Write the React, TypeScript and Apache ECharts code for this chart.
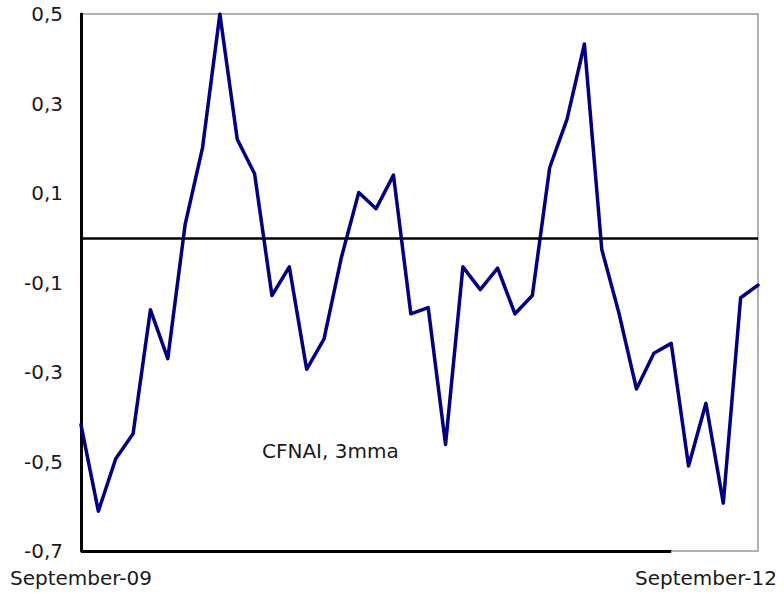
import React, { useEffect, useRef } from "react";
import * as echarts from "echarts";

const categories: string[] = [
  "September-09", "October-09", "November-09", "December-09",
  "January-10", "February-10", "March-10", "April-10", "May-10", "June-10",
  "July-10", "August-10", "September-10", "October-10", "November-10", "December-10",
  "January-11", "February-11", "March-11", "April-11", "May-11", "June-11",
  "July-11", "August-11", "September-11", "October-11", "November-11", "December-11",
  "January-12", "February-12", "March-12", "April-12", "May-12", "June-12",
  "July-12", "August-12", "September-12", "October-12", "November-12", "December-12",
];

const cfnai3mma: number[] = [
  -0.418, -0.611, -0.494, -0.438, -0.161, -0.27, 0.03, 0.201, 0.5, 0.22,
  0.143, -0.129, -0.065, -0.294, -0.226, -0.044, 0.101, 0.065, 0.14, -0.17,
  -0.156, -0.462, -0.065, -0.116, -0.068, -0.17, -0.129, 0.157, 0.265, 0.433,
  -0.026, -0.17, -0.338, -0.258, -0.236, -0.51, -0.37, -0.593, -0.134, -0.106,
];

const seriesLabel = "CFNAI, 3mma";
const yMin = -0.7;
const yMax = 0.5;
const yStep = 0.2;
const blackBaseEnd = "July-12";

export default function App() {
  const ref = useRef<HTMLDivElement>(null);
  useEffect(() => {
    if (!ref.current) return;
    const chart = echarts.init(ref.current, undefined, { renderer: "svg" });
    const font = "DejaVu Sans";
    chart.setOption({
      animation: false,
      backgroundColor: "#fff",
      grid: {
        left: 81,
        right: 26,
        top: 14,
        bottom: 43,
        show: true,
        borderColor: "#999",
        borderWidth: 1.5,
        backgroundColor: "transparent",
      },
      xAxis: {
        type: "category",
        data: categories,
        boundaryGap: false,
        axisLine: { show: false },
        axisTick: { show: false },
        splitLine: { show: false },
        axisLabel: {
          interval: 35,
          margin: 17,
          color: "#1a1a1a",
          fontFamily: font,
          fontSize: 20,
        },
      },
      yAxis: {
        type: "value",
        min: yMin,
        max: yMax,
        interval: yStep,
        axisLine: { show: true, lineStyle: { color: "#000", width: 3 } },
        axisTick: { show: false },
        splitLine: { show: false },
        axisLabel: {
          margin: 18,
          color: "#1a1a1a",
          fontFamily: font,
          fontSize: 20,
          verticalAlign: "middle",
          padding: [8, 0, 0, 0],
          formatter: (v: number) => v.toFixed(1).replace(".", ","),
        },
      },
      graphic: [
        {
          type: "text",
          left: 262,
          top: 441,
          silent: true,
          style: {
            text: seriesLabel,
            fill: "#1a1a1a",
            font: `20px "${font}"`,
          },
        },
      ],
      series: [
        {
          type: "line",
          name: seriesLabel,
          data: cfnai3mma,
          symbol: "none",
          lineStyle: { color: "#000080", width: 3.5, join: "round", cap: "round" },
          z: 3,
          markLine: {
            silent: true,
            symbol: "none",
            label: { show: false },
            animation: false,
            data: [
              { yAxis: 0, lineStyle: { color: "#000", width: 2.5, type: "solid" } },
              [
                { coord: [categories[0], yMin], lineStyle: { color: "#000", width: 3, type: "solid" } },
                { coord: [blackBaseEnd, yMin] },
              ],
            ],
          },
        },
      ],
    });
    return () => chart.dispose();
  }, []);
  return (
    <div
      ref={ref}
      style={{ position: "fixed", left: 0, top: 0, width: 784, height: 594 }}
    />
  );
}
